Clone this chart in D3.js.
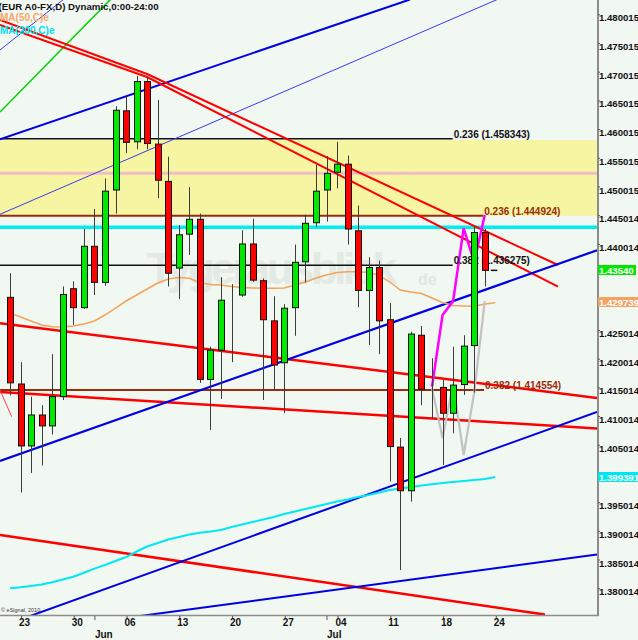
<!DOCTYPE html>
<html>
<head>
<meta charset="utf-8">
<script src="https://cdn.jsdelivr.net/npm/d3@7"></script>
<style>
  body { margin: 0; background: #f1f7f1; }
  svg { display: block; font-family: "Liberation Sans", Arial, sans-serif; }
</style>
</head>
<body>
<svg id="chart"></svg>
<script>
// daily bars, May 20 .. Jul 22 (index 0..45)
var opens  = [1.4307,1.4156,1.4048,1.4102,1.4083,1.4134,1.4322,1.4289,1.4396,1.4333,1.4494,1.4632,1.4578,1.4683,1.4574,1.4509,1.4358,1.4417,1.4443,1.4164,1.4215,1.4310,1.4311,1.4400,1.4336,1.4266,1.4193,1.4289,1.4369,1.4437,1.4494,1.4525,1.4539,1.4423,1.4319,1.4359,1.4268,1.4046,1.3970,1.4241,1.4149,1.4150,1.4105,1.4155,1.4223,1.4420];
var highs  = [1.4349,1.4194,1.4134,1.4119,1.4208,1.4326,1.4335,1.4426,1.4461,1.4514,1.4640,1.4657,1.4693,1.4691,1.4651,1.4552,1.4433,1.4499,1.4453,1.4221,1.4342,1.4330,1.4424,1.4444,1.4340,1.4309,1.4295,1.4399,1.4451,1.4538,1.4553,1.4578,1.4554,1.4467,1.4377,1.4371,1.4297,1.4062,1.4247,1.4257,1.4201,1.4163,1.4221,1.4241,1.4430,1.4426];
var lows   = [1.4136,1.3967,1.4001,1.4014,1.4068,1.4128,1.4259,1.4287,1.4311,1.4327,1.4453,1.4558,1.4565,1.4565,1.4480,1.4326,1.4304,1.4381,1.4158,1.4076,1.4130,1.4194,1.4308,1.4334,1.4128,1.4146,1.4105,1.4240,1.4333,1.4430,1.4439,1.4497,1.4399,1.4290,1.4224,1.4208,1.3986,1.3832,1.3951,1.4119,1.4096,1.4015,1.4070,1.4137,1.4141,1.4326];
var closes = [1.4158,1.4048,1.4102,1.4083,1.4134,1.4312,1.4289,1.4396,1.4333,1.4492,1.4633,1.4577,1.4683,1.4575,1.4511,1.4349,1.4416,1.4443,1.4164,1.4215,1.4302,1.4310,1.4400,1.4337,1.4268,1.4189,1.4288,1.4368,1.4436,1.4492,1.4523,1.4539,1.4426,1.4319,1.4359,1.4266,1.4047,1.3970,1.4243,1.4147,1.4149,1.4105,1.4154,1.4222,1.4420,1.4354];

var ma50  = [1.42797,1.42727,1.42658,1.42588,1.42558,1.42553,1.42571,1.42605,1.42658,1.42762,
             1.42884,1.43006,1.43111,1.43215,1.43320,1.43390,1.43416,1.43402,1.43325,1.43294,
             1.43285,1.43259,1.43241,1.43233,1.43228,1.43228,1.43233,1.43285,1.43337,1.43407,
             1.43459,1.43503,1.43517,1.43517,1.43503,1.43451,1.43337,1.43198,1.43163,1.43137,
             1.43058,1.42980,1.42928,1.42919,1.42914,1.42954,1.429739];
var ma200 = [1.38000,1.38017,1.38040,1.38066,1.38106,1.38153,1.38202,1.38272,1.38342,1.38406,
             1.38476,1.38545,1.38641,1.38728,1.38789,1.38850,1.38894,1.38937,1.38969,1.38990,
             1.39016,1.39068,1.39112,1.39155,1.39199,1.39242,1.39295,1.39338,1.39382,1.39425,
             1.39469,1.39513,1.39547,1.39591,1.39626,1.39669,1.39713,1.39739,1.39765,1.39791,
             1.39812,1.39835,1.39852,1.39870,1.39887,1.39905,1.399391];

var weekTicks  = [1,6,11,16,21,26,31,36,41,46];
var weekLabels = ["23","30","06","13","20","27","04","11","18","24"];
var monthTicks  = [8,30];
var monthLabels = ["Jun","Jul"];

// 1.435014 and 1.430014 sit under the value boxes, so they are left out
var priceTicks = [1.480015,1.475015,1.470015,1.465015,1.460015,1.455015,1.450015,1.445014,1.440014,
                  1.425014,1.420014,1.415014,1.410014,1.405014,1.400014,
                  1.395014,1.390014,1.385014,1.380014];

// fibonacci levels: value, ratio, last bar index of the line
var fibValues = [1.458343,1.444924,1.436275,1.414554];
var fibRatios = ["0.236","0.236","0.382","0.382"];
var fibEnds   = [41.96,44.86,41.96,44.93];

var pinkLevel = 1.45231;
var cyanLevel = 1.44290;

// trendlines as [bar index, price]
var blueUpper   = [[-0.95,1.45824],[37.91,1.48260]];
var blueThinA   = [[-0.95,1.44517],[46.45,1.48281]];
var blueThinB   = [[-0.95,1.47380],[5.12,1.48269]];
var greenLine   = [[-0.95,1.46300],[9.57,1.48269]];
var redTopB     = [[-0.95,1.47903],[12.99,1.46962],[51.94,1.43634]];
var redTopA     = [[-0.95,1.47816],[12.99,1.46909],[51.94,1.43255]];
var redMidA     = [[-0.95,1.42618],[55.64,1.41318]];
var redMidB     = [[-0.95,1.41421],[55.64,1.40784]];
var redShort    = [[-0.95,1.41455],[0.16,1.40990]];
var redBottom   = [[-0.95,1.38929],[50.71,1.37542]];
var blueLower   = [[-0.95,1.40218],[55.64,1.43890]];
var blueLower2  = [[1.90,1.37517],[55.64,1.41072]];
var blueBottom  = [[12.32,1.37517],[55.64,1.38589]];

// projections over bars 40..45
var projStart = 40;
var magentaPath = [1.41513,1.42762,1.43004,1.44273,1.43686,1.44505];
var grayPath    = [1.41490,1.40619,1.41560,1.40323,1.41408,1.43006];

var width = 638, height = 640, plotW = 597, plotH = 615;

var svg = d3.select("#chart").attr("width", width).attr("height", height);
svg.append("rect").attr("width", width).attr("height", height).attr("fill", "#f1f7f1");

var x = d3.scaleLinear().domain([0, 46]).range([10, 495.3]);
var y = d3.scaleLinear().domain([1.458343, 1.414554]).range([138.7, 390]);

svg.append("defs").append("clipPath").attr("id", "plotclip")
   .append("rect").attr("width", plotW).attr("height", plotH);

var plot = svg.append("g").attr("clip-path", "url(#plotclip)");

// yellow zone between the two 0.236 levels
plot.append("rect")
    .attr("x", 0).attr("width", plotW)
    .attr("y", y(fibValues[0]) + 1.3)
    .attr("height", y(fibValues[1]) - y(fibValues[0]) - 1.3)
    .attr("fill", "#f6f6a2");

// watermark
plot.append("text")
    .attr("x", 147).attr("y", 284)
    .attr("font-size", 44).attr("font-weight", "bold")
    .attr("fill", "#e3eae3")
    .attr("textLength", 250)
    .text("Tygerausblick");
plot.append("text")
    .attr("x", 418).attr("y", 285)
    .attr("font-size", 16).attr("font-weight", "bold")
    .attr("fill", "#dfe7df")
    .text("de");

plot.append("line").attr("x1", 0).attr("x2", plotW)
    .attr("y1", y(pinkLevel)).attr("y2", y(pinkLevel))
    .attr("stroke", "#f2bcc6").attr("stroke-width", 3);
plot.append("line").attr("x1", 0).attr("x2", plotW)
    .attr("y1", y(cyanLevel)).attr("y2", y(cyanLevel))
    .attr("stroke", "#00eef2").attr("stroke-width", 3.5);

var fibColors = ["#111", "#9a2c0c", "#111", "#9a2c0c"];
plot.selectAll(".fib")
    .data(fibValues)
    .enter()
    .append("line")
    .attr("class", "fib")
    .attr("x1", 0)
    .attr("x2", function(d, i) { return x(fibEnds[i]); })
    .attr("y1", function(d) { return y(d); })
    .attr("y2", function(d) { return y(d); })
    .attr("stroke", function(d, i) { return fibColors[i]; })
    .attr("stroke-width", function(d, i) { return i % 2 ? 2 : 1.5; });

var line = d3.line()
    .x(function(d) { return x(d[0]); })
    .y(function(d) { return y(d[1]); });

var trends = [
    [blueThinA, "#3a3af0", 1],
    [blueThinB, "#3a3af0", 1],
    [greenLine, "#00d000", 1.5],
    [blueUpper, "#0000e6", 2],
    [redTopB, "#ff0000", 2],
    [redTopA, "#ff0000", 2],
    [redMidA, "#ff0000", 2.5],
    [redMidB, "#ff0000", 2.5],
    [redShort, "#ff4040", 1],
    [redBottom, "#ff0000", 2.5],
    [blueLower, "#0000e6", 2.2],
    [blueLower2, "#0000e6", 2],
    [blueBottom, "#0000e6", 2]
];
plot.selectAll(".trend")
    .data(trends)
    .enter()
    .append("path")
    .attr("class", "trend")
    .attr("fill", "none")
    .attr("stroke", function(d) { return d[1]; })
    .attr("stroke-width", function(d) { return d[2]; })
    .attr("d", function(d) { return line(d[0]); });

plot.append("path")
    .attr("fill", "none").attr("stroke", "#f3a35c").attr("stroke-width", 1.5)
    .attr("d", line(ma50.map(function(v, i) { return [i, v]; })));
plot.append("path")
    .attr("fill", "none").attr("stroke", "#00e8f0").attr("stroke-width", 2)
    .attr("d", line(ma200.map(function(v, i) { return [i, v]; })));

plot.append("path")
    .attr("fill", "none").attr("stroke", "#c2c2c2").attr("stroke-width", 2.2)
    .attr("d", line(grayPath.map(function(v, i) { return [projStart + i, v]; })));
plot.append("path")
    .attr("fill", "none").attr("stroke", "#ff00ff").attr("stroke-width", 2.5)
    .attr("d", line(magentaPath.map(function(v, i) { return [projStart + i, v]; })));

// level labels (candles are drawn over them)
plot.selectAll(".fibtext")
    .data(fibValues)
    .enter()
    .append("text")
    .attr("class", "fibtext")
    .attr("x", function(d, i) { return x(fibEnds[i]) + 1; })
    .attr("y", function(d) { return y(d) - 1; })
    .attr("font-size", 10).attr("font-weight", "bold")
    .attr("fill", function(d, i) { return fibColors[i]; })
    .text(function(d, i) { return fibRatios[i] + " (" + d.toFixed(6) + ")"; });

// candles
var bars = opens.map(function(o, i) {
    return { i: i, o: o, h: highs[i], l: lows[i], c: closes[i] };
});
var candle = plot.selectAll(".candle")
    .data(bars)
    .enter()
    .append("g")
    .attr("class", "candle")
    .attr("transform", function(d) { return "translate(" + Math.round(x(d.i)) + ",0)"; });

candle.append("line")
    .attr("x1", 0.5).attr("x2", 0.5)
    .attr("y1", function(d) { return y(d.h); })
    .attr("y2", function(d) { return y(d.l); })
    .attr("stroke", "#3c3c3c").attr("stroke-width", 1);

candle.append("rect")
    .attr("x", -2.5).attr("width", 6)
    .attr("y", function(d) { return y(Math.max(d.o, d.c)); })
    .attr("height", function(d) { return Math.abs(y(d.o) - y(d.c)); })
    .attr("fill", function(d) {
        if (Math.abs(d.c - d.o) < 0.00005) return "none";
        return d.c > d.o ? "#00e800" : "#ff0000";
    })
    .attr("stroke", "#111").attr("stroke-width", 1);

// last price marker
var last = closes.length - 1;
plot.append("line")
    .attr("x1", x(last + 1) - 4.5).attr("x2", x(last + 1) + 2)
    .attr("y1", y(closes[last])).attr("y2", y(closes[last]))
    .attr("stroke", "#111").attr("stroke-width", 1.5);

// frame
svg.append("line").attr("x1", plotW + 1).attr("x2", plotW + 1).attr("y1", 0).attr("y2", plotH + 1)
   .attr("stroke", "#8c8c8c").attr("stroke-width", 2);
svg.append("line").attr("x1", 0).attr("x2", plotW + 2).attr("y1", plotH + 0.5).attr("y2", plotH + 0.5)
   .attr("stroke", "#8c8c8c").attr("stroke-width", 1.5);

// price axis
var yAxis = svg.append("g")
    .attr("transform", "translate(" + (plotW + 1) + ",0)")
    .call(d3.axisRight(y).tickValues(priceTicks).tickSize(2).tickPadding(-1)
          .tickFormat(function(d) { return d.toFixed(6); }));
yAxis.select(".domain").remove();
yAxis.selectAll("line").attr("stroke", "#555");
yAxis.selectAll("text")
    .attr("y", 3.5)
    .attr("font-family", "Liberation Sans, Arial, sans-serif")
    .attr("font-size", 9.6).attr("font-weight", "bold").attr("fill", "#111");

// value boxes at the right edge
var boxes = [
    [closes[last], closes[last].toFixed(5), "#00e600"],
    [ma50[ma50.length - 1], ma50[ma50.length - 1].toFixed(6), "#f2a262"],
    [ma200[ma200.length - 1], ma200[ma200.length - 1].toFixed(6), "#00e6ef"]
];
var box = svg.selectAll(".vbox")
    .data(boxes)
    .enter()
    .append("g")
    .attr("class", "vbox")
    .attr("transform", function(d) { return "translate(" + (plotW + 1) + "," + Math.round(y(d[0]) - 5.5) + ")"; });
box.append("rect")
    .attr("width", function(d, i) { return i == 0 ? 38 : 41; })
    .attr("height", 10)
    .attr("fill", function(d) { return d[2]; });
box.append("text")
    .attr("x", 1).attr("y", 8.6)
    .attr("font-size", 9.6).attr("font-weight", "bold").attr("fill", "#fff")
    .text(function(d) { return d[1]; });

// date axis
var xAxis = svg.append("g")
    .attr("transform", "translate(0," + (plotH + 1) + ")")
    .call(d3.axisBottom(x).tickValues(weekTicks).tickSize(3).tickPadding(0)
          .tickFormat(function(d, i) { return weekLabels[i]; }));
xAxis.select(".domain").remove();
xAxis.selectAll("line").attr("stroke", "#555").attr("transform", "translate(0.5,0)");
xAxis.selectAll("text")
    .attr("text-anchor", "start").attr("x", -2)
    .attr("font-family", "Liberation Sans, Arial, sans-serif")
    .attr("font-size", 10).attr("font-weight", "bold").attr("fill", "#111");

var mAxis = svg.append("g")
    .attr("transform", "translate(0," + (plotH + 1) + ")")
    .call(d3.axisBottom(x).tickValues(monthTicks).tickSize(4).tickPadding(11)
          .tickFormat(function(d, i) { return monthLabels[i]; }));
mAxis.select(".domain").remove();
mAxis.selectAll("line").attr("stroke", "#555");
mAxis.selectAll("text")
    .attr("text-anchor", "start").attr("x", 0)
    .attr("font-family", "Liberation Sans, Arial, sans-serif")
    .attr("font-size", 10).attr("font-weight", "bold").attr("fill", "#111");

// title and legend
svg.append("text").attr("x", -1.5).attr("y", 10)
   .attr("font-size", 9.7).attr("font-weight", "bold").attr("fill", "#111")
   .text("(EUR A0-FX,D) Dynamic,0:00-24:00");
svg.append("text").attr("x", 0).attr("y", 21)
   .attr("font-size", 10).attr("font-weight", "bold").attr("fill", "#f4a868")
   .text("MA(50,C)e");
svg.append("text").attr("x", 0).attr("y", 34)
   .attr("font-size", 10).attr("font-weight", "bold").attr("fill", "#00e0ee")
   .text("MA(200,C)e");

svg.append("text").attr("x", 1).attr("y", 612)
   .attr("font-size", 5.5).attr("fill", "#333")
   .text("\u00a9 eSignal, 2010");
</script>
</body>
</html>
